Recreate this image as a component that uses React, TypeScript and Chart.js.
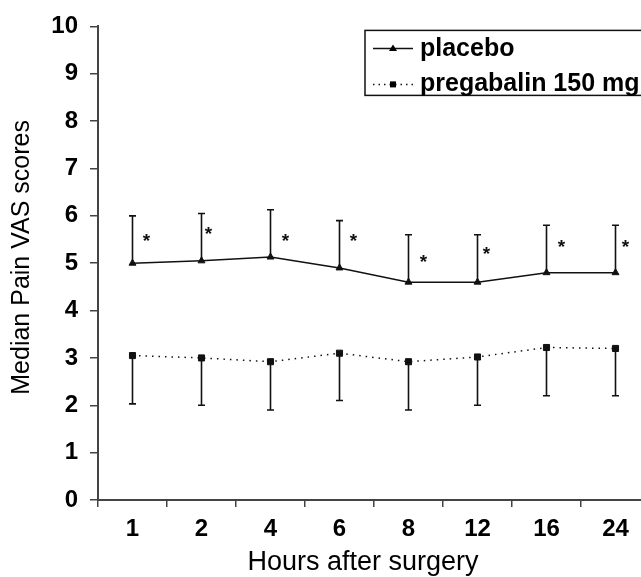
import React, { useEffect, useRef } from "react";
import { Chart, registerables } from "chart.js";

Chart.register(...registerables);

const hours = ["1", "2", "4", "6", "8", "12", "16", "24"];
const placebo = [5.0, 5.05, 5.13, 4.9, 4.6, 4.6, 4.8, 4.8];
const placeboUpper = [6.0, 6.05, 6.13, 5.9, 5.6, 5.6, 5.8, 5.8];
const pregabalin = [3.05, 3.0, 2.92, 3.1, 2.92, 3.02, 3.22, 3.2];
const pregabalinLower = [2.03, 2.0, 1.9, 2.1, 1.9, 2.0, 2.2, 2.2];
const asteriskY = [5.58, 5.73, 5.58, 5.58, 5.14, 5.31, 5.45, 5.45];
const asteriskDx = [14, 7, 15, 14, 15, 9, 15, 10];
const seriesNames = ["placebo", "pregabalin 150 mg"];
const yTitle = "Median Pain VAS scores";
const xTitle = "Hours after surgery";

const FONT = "'Liberation Sans', Arial, Helvetica, sans-serif";
const INK = "#111";
const AXIS = "#444";

const annotations = {
  id: "annotations",
  afterDatasetsDraw(chart: any) {
    const { ctx, scales } = chart;
    const xs = scales.x;
    const ys = scales.y;
    ctx.save();
    ctx.strokeStyle = INK;
    ctx.lineWidth = 1.6;
    const cap = 3.5;
    for (let i = 0; i < hours.length; i++) {
      const px = xs.getPixelForValue(i);
      // placebo upper error bar
      const a = ys.getPixelForValue(placebo[i]);
      const b = ys.getPixelForValue(placeboUpper[i]);
      ctx.beginPath();
      ctx.moveTo(px, a);
      ctx.lineTo(px, b);
      ctx.moveTo(px - cap, b);
      ctx.lineTo(px + cap, b);
      ctx.stroke();
      // pregabalin lower error bar
      const c = ys.getPixelForValue(pregabalin[i]);
      const d = ys.getPixelForValue(pregabalinLower[i]);
      ctx.beginPath();
      ctx.moveTo(px, c);
      ctx.lineTo(px, d);
      ctx.moveTo(px - cap, d);
      ctx.lineTo(px + cap, d);
      ctx.stroke();
      // asterisk
      ctx.fillStyle = INK;
      ctx.font = `bold 19px ${FONT}`;
      ctx.textAlign = "center";
      ctx.textBaseline = "alphabetic";
      ctx.fillText("*", px + asteriskDx[i], ys.getPixelForValue(asteriskY[i]) + 11);
    }
    ctx.restore();
  },
  afterDraw(chart: any) {
    const { ctx, chartArea } = chart;
    ctx.save();
    // legend
    const lx = chartArea.left + 267;
    const ly = chartArea.top + 4;
    ctx.strokeStyle = INK;
    ctx.lineWidth = 1.5;
    ctx.strokeRect(lx, ly, 320, 65);
    const rows = [ly + 18, ly + 54];
    ctx.font = `bold 25px ${FONT}`;
    ctx.fillStyle = "#000";
    ctx.textAlign = "left";
    ctx.textBaseline = "alphabetic";
    // row 1: solid + triangle
    ctx.lineWidth = 1.5;
    ctx.setLineDash([]);
    ctx.beginPath();
    ctx.moveTo(lx + 8, rows[0]);
    ctx.lineTo(lx + 48, rows[0]);
    ctx.stroke();
    ctx.beginPath();
    ctx.moveTo(lx + 28, rows[0] - 4);
    ctx.lineTo(lx + 32, rows[0] + 2.5);
    ctx.lineTo(lx + 24, rows[0] + 2.5);
    ctx.closePath();
    ctx.fill();
    ctx.fillText(seriesNames[0], lx + 55, rows[0] + 8);
    // row 2: dotted + square
    ctx.setLineDash([1.5, 4]);
    ctx.beginPath();
    ctx.moveTo(lx + 8, rows[1]);
    ctx.lineTo(lx + 48, rows[1]);
    ctx.stroke();
    ctx.setLineDash([]);
    ctx.fillRect(lx + 25, rows[1] - 3, 6, 6);
    ctx.fillText(seriesNames[1], lx + 55, rows[1] + 7);

    // axis titles
    ctx.fillStyle = "#000";
    ctx.font = `27px ${FONT}`;
    ctx.textAlign = "center";
    ctx.textBaseline = "middle";
    ctx.fillText(xTitle, chartArea.left + 265, chartArea.bottom + 63);
    ctx.save();
    ctx.translate(22, chartArea.top + 231);
    ctx.rotate(-Math.PI / 2);
    ctx.font = `25px ${FONT}`;
    ctx.fillText(yTitle, 0, 0);
    ctx.restore();
    ctx.restore();
  },
};

export default function App() {
  const ref = useRef<HTMLCanvasElement>(null);
  useEffect(() => {
    const chart = new Chart(ref.current as HTMLCanvasElement, {
      type: "line",
      data: {
        labels: hours,
        datasets: [
          {
            label: seriesNames[0],
            data: placebo,
            borderColor: INK,
            backgroundColor: INK,
            borderWidth: 1.5,
            pointStyle: "triangle",
            pointRadius: 4,
            pointBorderWidth: 1,
            tension: 0,
          },
          {
            label: seriesNames[1],
            data: pregabalin,
            borderColor: INK,
            backgroundColor: INK,
            borderWidth: 1.5,
            borderDash: [1.5, 5],
            pointStyle: "rect",
            pointRadius: 4.3,
            pointBorderWidth: 1,
            tension: 0,
          },
        ],
      },
      options: {
        responsive: false,
        animation: false,
        devicePixelRatio: 1,
        layout: { padding: { left: 0, top: 23, right: 30, bottom: 0 } },
        plugins: {
          legend: { display: false },
          tooltip: { enabled: false },
          title: { display: false },
        },
        scales: {
          x: {
            type: "category",
            offset: true,
            grid: {
              display: true,
              drawOnChartArea: false,
              drawTicks: true,
              tickLength: 7,
              color: AXIS,
              lineWidth: 1.5,
              offset: true,
            },
            border: { display: true, color: AXIS, width: 2 },
            ticks: {
              color: "#000",
              font: { family: FONT, size: 24, weight: "bold" },
              padding: 8,
              maxRotation: 0,
              autoSkip: false,
            },
            afterFit(scale: any) {
              scale.height = 77;
            },
          },
          y: {
            min: 0,
            max: 10,
            grid: {
              display: true,
              drawOnChartArea: false,
              drawTicks: true,
              tickLength: 8,
              color: AXIS,
              lineWidth: 1.5,
            },
            border: { display: true, color: AXIS, width: 2 },
            ticks: {
              stepSize: 1,
              color: "#000",
              font: { family: FONT, size: 24, weight: "bold" },
              padding: 12,
            },
            afterFit(scale: any) {
              scale.width = 98;
            },
          },
        },
      },
      plugins: [annotations],
    });
    return () => chart.destroy();
  }, []);
  return (
    <div
      style={{
        position: "fixed",
        left: 0,
        top: 0,
        width: 641,
        height: 577,
        overflow: "hidden",
        background: "#fff",
      }}
    >
      <canvas
        ref={ref}
        width={680}
        height={577}
        style={{ display: "block", width: 680, height: 577 }}
      />
    </div>
  );
}
